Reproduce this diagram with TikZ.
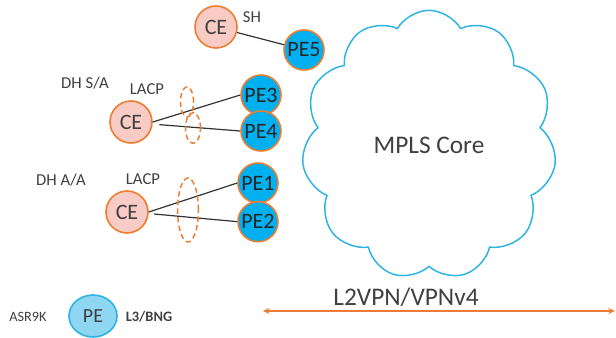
\documentclass[tikz,border=0pt]{standalone}
\usepackage{fontspec}
\setmainfont{Carlito}
\usepackage{xcolor}
\usetikzlibrary{positioning,shapes.symbols,shapes.geometric,arrows.meta}

\definecolor{ceorange}{HTML}{ED7D31}
\definecolor{cefill}{HTML}{F8CBC4}
\definecolor{pecyan}{HTML}{00B0F0}
\definecolor{cloudblue}{HTML}{2BB3E3}
\definecolor{legendfill}{HTML}{8ED6F2}
\definecolor{txtgray}{HTML}{404040}

\begin{document}
\begin{tikzpicture}[x=0.75pt,y=-0.75pt,on grid,
    ce/.style={circle,draw=ceorange,line width=1.2pt,fill=cefill,minimum size=31.5pt,inner sep=0pt,font=\fontsize{16.5}{18}\selectfont,text=txtgray},
    pe/.style={circle,draw=ceorange,line width=1.2pt,fill=pecyan,minimum size=30pt,inner sep=0pt,font=\fontsize{16.5}{18}\selectfont,text=black!85},
    lbl/.style={font=\fontsize{12.5}{14}\selectfont,text=txtgray,inner sep=0pt},
    link/.style={line width=0.9pt,black!80},
    lag/.style={draw=ceorange,line width=1.1pt,dash pattern=on 4pt off 2.5pt}]
   \useasboundingbox (0,0) rectangle (616,338);

   % single homed
   \node[ce] (ce1) at (216,27) {CE};
   \node[pe] (pe5) at (304,50) {PE5};
   \node[lbl] (sh) at (252,17) {SH};

   % dual homed single active
   \node[ce] (ce2) at (131,122) {CE};
   \node[pe] (pe3) at (261,95) {PE3};
   \node[pe] (pe4) [below=27pt of pe3] {PE4};
   \node[lbl] (dhsa) at (85,83) {DH S/A};
   \node[lbl] (lacp1) at (147,89) {LACP};

   % dual homed all active
   \node[ce] (ce3) at (127,212) {CE};
   \node[pe] (pe1) at (258,183) {PE1};
   \node[pe] (pe2) [below=29pt of pe1] {PE2};
   \node[lbl] (dhaa) at (61,180) {DH A/A};
   \node[lbl] (lacp2) at (143,179) {LACP};

   \node[cloud,draw=cloudblue,line width=1.1pt,cloud puffs=11,cloud puff arc=120,aspect=0.92,
         minimum width=191pt,minimum height=202pt,font=\fontsize{19}{22}\selectfont,text=txtgray] (core) at (429,145) {MPLS Core};

   \path[link]
    (ce1) edge (pe5)
    (ce2.east) edge (pe3.west)
    ([shift={(5pt,-2pt)}]ce2.east) edge (pe4.west)
    (ce3.east) edge (pe1.west)
    ([shift={(4pt,-1.5pt)}]ce3.east) edge (pe2.west);

   \draw[lag] (187,102) ellipse [x radius=4.9pt, y radius=11.3pt];
   \draw[lag] (193,128) ellipse [x radius=5.6pt, y radius=11.5pt];
   \draw[lag] (188,210) ellipse [x radius=7.8pt, y radius=24pt];

   % legend and overlay
   \coordinate (vpnl) at (263,311);
   \coordinate (vpnr) at (615,311);
   \draw[ceorange,line width=1.1pt,{Stealth[length=5pt,width=4.5pt]}-{Stealth[length=5pt,width=4.5pt]}] (vpnl) -- (vpnr);
   \node[font=\fontsize{19}{22}\selectfont,text=txtgray] (l2vpn) at (406,297) {L2VPN/VPNv4};

   \node[ellipse,draw=cloudblue,line width=1.2pt,fill=legendfill,minimum width=36pt,minimum height=31.5pt,inner sep=0pt,
         font=\fontsize{15}{17}\selectfont,text=txtgray] (pelegend) at (93,316) {PE};
   \node[lbl,font=\fontsize{10.7}{12}\selectfont] (asr) at (28,317) {ASR9K};
   \node[lbl,font=\bfseries\fontsize{10.8}{12}\selectfont] (l3bng) at (149,317) {L3/BNG};
\end{tikzpicture}
\end{document}
